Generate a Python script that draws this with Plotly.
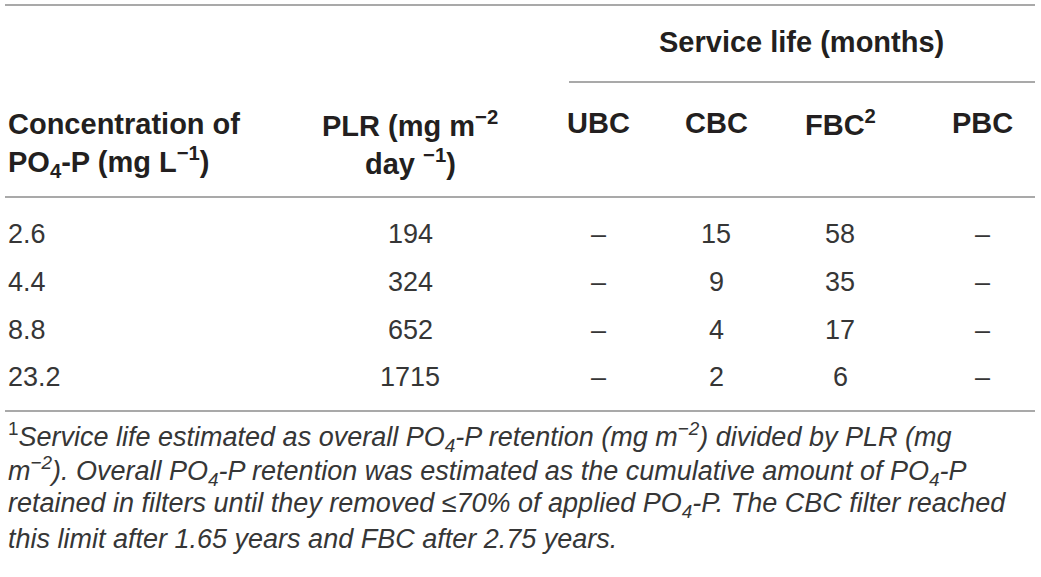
import plotly.graph_objects as go

# table values
concentration = ["2.6", "4.4", "8.8", "23.2"]
plr = ["194", "324", "652", "1715"]
ubc = ["–", "–", "–", "–"]
cbc = ["15", "9", "4", "2"]
fbc = ["58", "35", "17", "6"]
pbc = ["–", "–", "–", "–"]

filter_headers = ["UBC", "CBC", "FBC<sup>2</sup>", "PBC"]
group_header = "Service life (months)"
conc_header = ["Concentration of", "PO<sub>4</sub>-P (mg L<sup>−1</sup>)"]
plr_header = ["PLR (mg m<sup>−2</sup>", "day <sup>−1</sup>)"]

footnote = [
    "<sup>1</sup><i>Service life estimated as overall PO<sub>4</sub>-P retention "
    "(mg m<sup>−2</sup>) divided by PLR (mg</i>",
    "<i>m<sup>−2</sup>). Overall PO<sub>4</sub>-P retention was estimated as the "
    "cumulative amount of PO<sub>4</sub>-P</i>",
    "<i>retained in filters until they removed ≤70% of applied PO<sub>4</sub>-P. "
    "The CBC filter reached</i>",
    "<i>this limit after 1.65 years and FBC after 2.75 years.</i>",
]

W, H = 1041, 577
FONT = "Liberation Sans, Arial, sans-serif"
INK = "#231f20"
LIGHT_INK = "#363636"
RULE = "#a9a9a9"

fig = go.Figure()
fig.add_trace(go.Scatter(x=[0], y=[0], mode="markers",
                         marker=dict(opacity=0), hoverinfo="skip",
                         showlegend=False))

ann = []


def text(x, y, s, size, anchor="center", bold=False, color=INK):
    ann.append(dict(
        x=x, y=y, xref="x", yref="y", text=f"<b>{s}</b>" if bold else s,
        showarrow=False, xanchor=anchor, yanchor="middle",
        font=dict(family=FONT, size=size, color=color),
    ))


# header
text(801, 42, group_header, 29, bold=True)
text(6, 124, conc_header[0], 29, anchor="left", bold=True)
text(6, 162, conc_header[1], 29, anchor="left", bold=True)
text(410, 124, plr_header[0], 29, bold=True)
text(410, 162, plr_header[1], 29, bold=True)
col_x = [598, 716, 840, 982]
for cx, h in zip(col_x, filter_headers):
    text(cx, 123, h, 29, bold=True)

# body rows
row_y = [234, 282, 330, 377]
for i, ry in enumerate(row_y):
    text(6, ry, concentration[i], 27, anchor="left", color=LIGHT_INK)
    text(410, ry, plr[i], 27, color=LIGHT_INK)
    for cx, col in zip(col_x, [ubc, cbc, fbc, pbc]):
        text(cx, ry, col[i], 27, color=LIGHT_INK)

# footnote
foot_y = [437, 471, 505, 539]
for fy, line in zip(foot_y, footnote):
    text(6, fy, line, 27, anchor="left", color=LIGHT_INK)

# rules
shapes = []
for x0, x1, y in [(5, 1035, 5), (569, 1035, 82), (5, 1035, 197), (5, 1035, 411)]:
    shapes.append(dict(type="line", xref="x", yref="y", x0=x0, x1=x1, y0=y, y1=y,
                       line=dict(color=RULE, width=2)))

fig.update_layout(
    width=W, height=H,
    margin=dict(l=0, r=0, t=0, b=0),
    paper_bgcolor="white", plot_bgcolor="white",
    xaxis=dict(range=[0, W], visible=False, fixedrange=True),
    yaxis=dict(range=[H, 0], visible=False, fixedrange=True),
    annotations=ann, shapes=shapes,
    showlegend=False,
)

fig.write_html("out.html", config={"displayModeBar": False},
               post_script="document.body.style.margin = '0';")
